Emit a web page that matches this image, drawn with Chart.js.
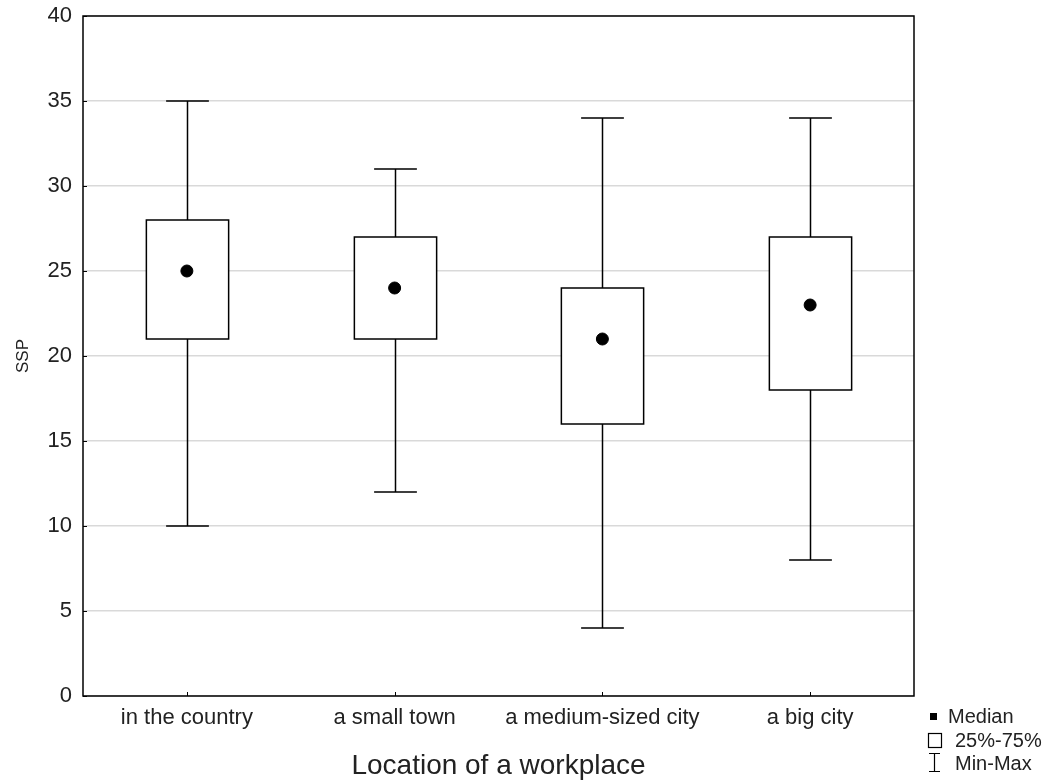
<!DOCTYPE html>
<html>
<head>
<meta charset="utf-8">
<script src="https://cdn.jsdelivr.net/npm/chart.js@4.4.1/dist/chart.umd.min.js"></script>
<style>
  html, body { margin: 0; padding: 0; background: #fff; }
  #wrap { width: 1046px; height: 783px; position: relative; }
</style>
</head>
<body>
<div id="wrap"><canvas id="myChart" width="1046" height="783"></canvas></div>
<script>
const categories = ['in the country', 'a small town', 'a medium-sized city', 'a big city']
const minValues = [10, 12, 4, 8]
const q1Values = [21, 21, 16, 18]
const medianValues = [25, 24, 21, 23]
const q3Values = [28, 27, 24, 27]
const maxValues = [35, 31, 34, 34]
const yTicks = [0, 5, 10, 15, 20, 25, 30, 35, 40]

const FONT = '"Liberation Sans", Arial, sans-serif'
const TEXT = '#222'

// boxes, whiskers, caps and the legend
const boxPlugin = {
    id: 'boxes',
    beforeDatasetsDraw(chart) {
        const ctx = chart.ctx
        const x = chart.scales.x
        const y = chart.scales.y
        ctx.save()
        ctx.strokeStyle = '#000'
        ctx.lineWidth = 1.5
        categories.forEach((c, i) => {
            const cx = Math.round(x.getPixelForValue(i + 1)) + 0.5
            const boxHalf = x.getPixelForValue(i + 1.198) - x.getPixelForValue(i + 1)
            const capHalf = boxHalf * 0.52
            const yMin = y.getPixelForValue(minValues[i])
            const yMax = y.getPixelForValue(maxValues[i])
            const yQ1 = y.getPixelForValue(q1Values[i])
            const yQ3 = y.getPixelForValue(q3Values[i])
            ctx.beginPath()
            ctx.moveTo(cx, yMax); ctx.lineTo(cx, yQ3)
            ctx.moveTo(cx, yQ1); ctx.lineTo(cx, yMin)
            ctx.moveTo(cx - capHalf, yMax); ctx.lineTo(cx + capHalf, yMax)
            ctx.moveTo(cx - capHalf, yMin); ctx.lineTo(cx + capHalf, yMin)
            ctx.stroke()
            ctx.fillStyle = '#fff'
            ctx.fillRect(cx - boxHalf, yQ3, boxHalf * 2, yQ1 - yQ3)
            ctx.strokeRect(cx - boxHalf, yQ3, boxHalf * 2, yQ1 - yQ3)
        })
        ctx.restore()
    },
    afterDraw(chart) {
        const ctx = chart.ctx
        const a = chart.chartArea
        ctx.save()
        // frame
        ctx.strokeStyle = '#000'
        ctx.lineWidth = 1.5
        ctx.strokeRect(a.left, a.top, a.right - a.left, a.bottom - a.top)
        // small inner tick marks
        ctx.lineWidth = 1
        yTicks.forEach(v => {
            const py = Math.round(chart.scales.y.getPixelForValue(v)) + 0.5
            ctx.beginPath(); ctx.moveTo(a.left, py); ctx.lineTo(a.left + 4, py); ctx.stroke()
        })
        categories.forEach((c, i) => {
            const px = Math.round(chart.scales.x.getPixelForValue(i + 1)) + 0.5
            ctx.beginPath(); ctx.moveTo(px, a.bottom); ctx.lineTo(px, a.bottom - 4); ctx.stroke()
        })
        // legend
        ctx.font = '20px ' + FONT
        ctx.textBaseline = 'middle'
        ctx.textAlign = 'left'
        ctx.fillStyle = '#000'
        ctx.fillRect(930, 713, 7, 7)
        ctx.fillStyle = TEXT
        ctx.fillText('Median', 948, 717)
        ctx.lineWidth = 1.2
        ctx.strokeStyle = '#000'
        ctx.strokeRect(928.5, 733.5, 13, 14)
        ctx.fillText('25%-75%', 955, 741)
        ctx.beginPath()
        ctx.moveTo(929, 753.5); ctx.lineTo(940, 753.5)
        ctx.moveTo(934.5, 753.5); ctx.lineTo(934.5, 771.5)
        ctx.moveTo(929, 771.5); ctx.lineTo(940, 771.5)
        ctx.stroke()
        ctx.fillText('Min-Max', 955, 764)
        ctx.restore()
    }
}

const ctx = document.getElementById('myChart').getContext('2d')
const myChart = new Chart(ctx, {
    type: 'scatter',
    data: {
        datasets: [{
            label: 'Median',
            data: medianValues.map((m, i) => ({ x: i + 1, y: m })),
            backgroundColor: '#000',
            borderColor: '#000',
            pointRadius: 6,
            pointHoverRadius: 6
        }]
    },
    options: {
        responsive: false,
        animation: false,
        events: [],
        layout: { padding: { top: 16, right: 132, left: 0, bottom: 0 } },
        plugins: { legend: { display: false }, tooltip: { enabled: false } },
        scales: {
            x: {
                type: 'linear',
                min: 0.5,
                max: 4.5,
                afterBuildTicks(scale) {
                    scale.ticks = categories.map((c, i) => ({ value: i + 1 }))
                },
                afterFit(scale) {
                    scale.height = 87
                    scale.paddingLeft = 0
                    scale.paddingRight = 0
                },
                grid: { display: false, drawTicks: false },
                border: { display: false },
                ticks: {
                    callback: (v) => categories[v - 1] || '',
                    color: TEXT,
                    font: { family: FONT, size: 22 },
                    padding: 9,
                    maxRotation: 0,
                    autoSkip: false
                },
                title: {
                    display: true,
                    text: 'Location of a workplace',
                    color: TEXT,
                    font: { family: FONT, size: 28 },
                    padding: { top: 1, bottom: 0 }
                }
            },
            y: {
                min: 0,
                max: 40,
                afterBuildTicks(scale) {
                    scale.ticks = yTicks.map(v => ({ value: v }))
                },
                afterFit(scale) {
                    scale.width = 83
                    scale.paddingTop = 0
                    scale.paddingBottom = 0
                },
                grid: { color: '#d9d9d9', lineWidth: 1.5, drawTicks: false },
                border: { display: false },
                ticks: {
                    color: TEXT,
                    font: { family: FONT, size: 22 },
                    padding: 11
                },
                title: {
                    display: true,
                    text: 'SSP',
                    color: TEXT,
                    font: { family: FONT, size: 17 },
                    padding: { top: 13, bottom: 0 }
                }
            }
        }
    },
    plugins: [boxPlugin]
})
</script>
</body>
</html>
